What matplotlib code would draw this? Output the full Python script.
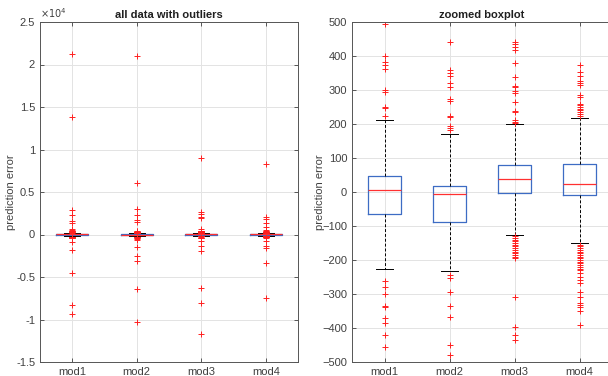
import matplotlib
matplotlib.use('Agg')
import matplotlib.pyplot as plt
from matplotlib.ticker import FuncFormatter, MultipleLocator

plt.rcParams['font.family'] = ['Liberation Sans', 'DejaVu Sans']
plt.rcParams['font.size'] = 8

labels = ['mod1', 'mod2', 'mod3', 'mod4']

# box statistics
q1 = [-64, -88, -3, -10]
med = [6, -7, 38, 24]
q3 = [48, 17, 80, 82]
whislo = [-227, -232, -125, -151]
whishi = [211, 172, 199, 217]

out1 = [21200, 13800, 2900, 2250, 1600, 1300, 600, 495, 400, 382, 374, 362, 299, 295,
        251, 246, 224, -263, -280, -300, -334, -337, -370, -385, -421, -456,
        -900, -1800, -4550, -8260, -9400]
out2 = [21000, 6050, 3000, 2250, 1660, 1460, 441, 358, 350, 340, 321, 308, 274, 268,
        224, 220, 195, 188, 181, -244, -253, -295, -336, -367, -449, -478,
        -700, -1500, -2500, -3100, -6450, -10300]
out3 = [9000, 2700, 2450, 2050, 1900, 670, 441, 436, 426, 417, 378, 339, 312, 308,
        298, 292, 266, 239, 235, 212, 207, 202,
        -130, -135, -140, -145, -150, -155, -160, -165, -170, -175, -180, -185,
        -190, -195, -309, -398, -422, -434, -800, -1300, -1900, -6300, -8000, -11700]
out4 = [8300, 2050, 1860, 1380, 870, 560, 373, 354, 341, 326, 321, 316, 286, 280,
        260, 255, 250, 245, 240, 235, 230, 225,
        -155, -160, -165, -170, -175, -180, -185, -190, -195, -200, -205, -210,
        -215, -220, -225, -230, -239, -250, -258, -268, -295, -309, -327, -331,
        -338, -349, -390, -710, -1300, -1620, -3360, -7470]
outliers = [out1, out2, out3, out4]

stats = []
for i in range(4):
    stats.append(dict(label=labels[i], q1=q1[i], med=med[i], q3=q3[i],
                      whislo=whislo[i], whishi=whishi[i], fliers=outliers[i]))

fig = plt.figure(figsize=(6.08, 3.76), dpi=100)
ax1 = fig.add_axes([40/608, 14/376, 258/608, 340/376])
ax2 = fig.add_axes([352/608, 14/376, 260/608, 340/376])

dark = '#404040'
for ax in (ax1, ax2):
    ax.bxp(stats, positions=[1, 2, 3, 4], widths=0.5, showfliers=True,
           boxprops=dict(color='#3d6cc4', linewidth=0.9),
           medianprops=dict(color='#ff3030', linewidth=0.9),
           whiskerprops=dict(color='black', linestyle=(0, (3, 2)), linewidth=0.7),
           capprops=dict(color='black', linewidth=0.7),
           capwidths=0.25,
           flierprops=dict(marker='+', markeredgecolor='#ff2020', markersize=5,
                           markeredgewidth=0.7, linestyle='none'))
    ax.set_xlim(0.5, 4.5)
    ax.grid(True, color='#e3e3e3', linewidth=0.7)
    ax.set_axisbelow(True)
    ax.tick_params(direction='in', length=3, top=True, right=True,
                   colors=dark, labelcolor=dark, labelsize=8, width=0.6)
    for s in ax.spines.values():
        s.set_color('#555555')
        s.set_linewidth(0.7)
    ax.set_ylabel('prediction error', color=dark, fontsize=8)

ax1.yaxis.set_label_coords(-0.093, 0.5)
ax2.yaxis.set_label_coords(-0.104, 0.5)

ax1.set_ylim(-15000, 25000)
ax1.yaxis.set_major_locator(MultipleLocator(5000))
ax1.yaxis.set_major_formatter(FuncFormatter(lambda v, p: f'{v/1e4:g}'))
ax1.text(0.0, 1.005, r'$\times10^{4}$', transform=ax1.transAxes, fontsize=7,
         color=dark, ha='left', va='bottom')
ax1.set_title('all data with outliers', fontsize=8, fontweight='bold', color='#202020', pad=3)

ax2.set_ylim(-500, 500)
ax2.yaxis.set_major_locator(MultipleLocator(100))
ax2.set_title('zoomed boxplot', fontsize=8, fontweight='bold', color='#202020', pad=3)

fig.savefig('out.png', dpi=100)
